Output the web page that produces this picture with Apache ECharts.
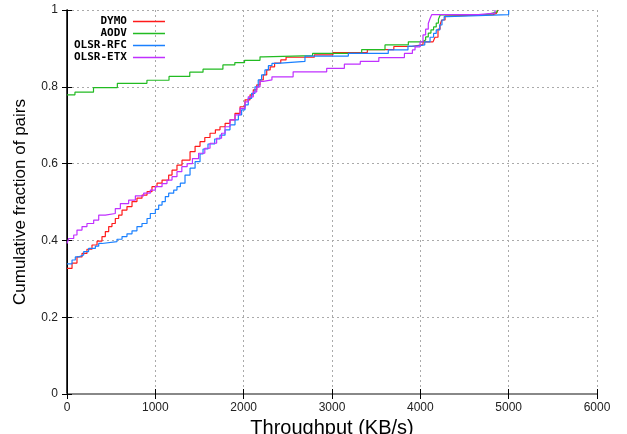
<!DOCTYPE html>
<html>
<head>
<meta charset="utf-8">
<script src="https://cdn.jsdelivr.net/npm/echarts@6/dist/echarts.min.js"></script>
<style>html,body{margin:0;padding:0;background:#fff}#c{width:627px;height:434px}</style>
</head>
<body>
<div id="c"></div>
<script>
const seriesNames = ['DYMO', 'AODV', 'OLSR-RFC', 'OLSR-ETX'];
const xTicks = [0, 1000, 2000, 3000, 4000, 5000, 6000];
const yTicks = [0, 0.2, 0.4, 0.6, 0.8, 1];

const dymo = [[0,0.327],[57,0.341],[113,0.357],[170,0.366],[226,0.377],[283,0.388],[340,0.398],[396,0.410],[434,0.423],[472,0.436],[509,0.444],[547,0.457],[585,0.466],[623,0.479],[679,0.488],[736,0.501],[792,0.510],[849,0.518],[906,0.527],[962,0.540],[1019,0.549],[1076,0.557],[1151,0.570],[1189,0.583],[1245,0.596],[1302,0.609],[1393,0.631],[1450,0.645],[1506,0.657],[1560,0.668],[1619,0.679],[1680,0.688],[1732,0.696],[1790,0.705],[1845,0.714],[1902,0.731],[1959,0.748],[2015,0.766],[2072,0.779],[2109,0.792],[2148,0.805],[2185,0.818],[2222,0.831],[2261,0.844],[2300,0.852],[2350,0.862],[2420,0.870],[2480,0.877],[2800,0.883],[3010,0.889],[3400,0.897],[3700,0.905],[3900,0.910],[4030,0.917],[4144,0.919],[4166,0.929],[4200,0.950],[4223,0.961],[4242,0.974],[4280,0.984],[4302,0.988],[4823,0.991],[4860,0.995],[4880,1.0]];
const aodv = [[0,0.779],[90,0.786],[300,0.798],[570,0.809],[905,0.817],[1155,0.827],[1390,0.838],[1540,0.846],[1765,0.857],[1900,0.863],[2010,0.869],[2185,0.878],[2220,0.881],[2780,0.887],[3336,0.897],[3600,0.909],[3864,0.917],[4020,0.922],[4060,0.930],[4090,0.940],[4120,0.948],[4150,0.956],[4180,0.966],[4205,0.976],[4225,0.987],[4700,0.990],[4790,0.995],[4870,1.0]];
const olsrRfc = [[0,0.339],[57,0.349],[94,0.357],[132,0.362],[189,0.371],[245,0.379],[321,0.385],[359,0.392],[396,0.397],[566,0.403],[623,0.410],[679,0.417],[736,0.425],[792,0.436],[849,0.444],[906,0.457],[943,0.470],[1000,0.481],[1038,0.492],[1076,0.501],[1113,0.514],[1151,0.523],[1208,0.531],[1245,0.540],[1283,0.549],[1336,0.570],[1393,0.588],[1450,0.605],[1506,0.625],[1540,0.638],[1596,0.651],[1672,0.664],[1732,0.674],[1789,0.688],[1845,0.701],[1902,0.714],[1940,0.727],[1977,0.740],[2015,0.753],[2052,0.770],[2090,0.783],[2128,0.800],[2165,0.818],[2203,0.831],[2241,0.844],[2280,0.855],[2320,0.861],[2380,0.866],[2694,0.880],[3185,0.887],[3637,0.896],[3860,0.906],[3950,0.909],[4050,0.917],[4110,0.929],[4150,0.939],[4180,0.948],[4220,0.961],[4245,0.974],[4270,0.983],[4300,0.988],[5000,1.0]];
const olsrEtx = [[0,0.392],[19,0.405],[76,0.414],[113,0.427],[170,0.436],[226,0.444],[302,0.453],[359,0.466],[434,0.470],[547,0.483],[604,0.496],[698,0.505],[774,0.516],[868,0.523],[943,0.531],[1000,0.540],[1076,0.548],[1132,0.557],[1189,0.566],[1245,0.579],[1300,0.592],[1360,0.600],[1420,0.613],[1490,0.627],[1560,0.640],[1619,0.653],[1694,0.666],[1750,0.679],[1789,0.696],[1845,0.714],[1902,0.727],[1959,0.744],[2015,0.761],[2052,0.774],[2109,0.787],[2148,0.800],[2185,0.814],[2222,0.818],[2320,0.826],[2560,0.839],[2940,0.848],[3140,0.859],[3320,0.866],[3530,0.876],[3820,0.887],[3910,0.896],[3940,0.904],[3997,0.917],[4030,0.935],[4060,0.950],[4090,0.965],[4110,0.978],[4130,0.988],[4656,0.992],[4845,1.0]];

const allData = [dymo, aodv, olsrRfc, olsrEtx];
const colors = ['#ff1a1a', '#22bb22', '#1a80ff', '#c030ff'];

const chart = echarts.init(document.getElementById('c'), null, {renderer: 'canvas'});
const labelFont = {color: '#222', fontFamily: 'Liberation Sans, Arial, sans-serif', fontSize: 12};
const baseX = {type: 'value', min: xTicks[0], max: xTicks[xTicks.length-1], interval: 1000};
const baseY = {type: 'value', min: yTicks[0], max: yTicks[yTicks.length-1], interval: 0.2};

chart.setOption({
  animation: false,
  backgroundColor: '#fff',
  grid: {left: 67, right: 30, top: 10, bottom: 40, containLabel: false, outerBoundsMode: 'none'},
  legend: {
    orient: 'vertical', left: 69, top: 11, align: 'right', itemGap: 1,
    itemWidth: 32, itemHeight: 1.5, icon: 'rect',
    data: seriesNames,
    textStyle: {fontFamily: 'DejaVu Sans Mono, monospace', fontWeight: 'bold', fontSize: 11, color: '#000', width: 60, align: 'right', padding: [0, 1, 0, 0]}
  },
  xAxis: [
    Object.assign({}, baseX, {
      position: 'bottom',
      name: 'Throughput (KB/s)', nameLocation: 'middle', nameGap: 23,
      nameTextStyle: {fontFamily: 'Liberation Sans, Arial, sans-serif', fontSize: 20, color: '#000'},
      axisLine: {show: true, lineStyle: {color: '#000', width: 1}},
      axisTick: {show: true, inside: true, length: 5, lineStyle: {color: '#000'}},
      axisLabel: Object.assign({margin: 8, formatter: v => String(v)}, labelFont),
      splitLine: {show: true, lineStyle: {color: '#aaa', type: [2, 3], width: 1}}
    }),
    Object.assign({}, baseX, {
      position: 'top',
      axisLine: {show: true, lineStyle: {color: '#888', width: 2}},
      axisTick: {show: true, inside: true, length: 5, lineStyle: {color: '#000'}},
      axisLabel: {show: false},
      splitLine: {show: false}
    })
  ],
  yAxis: [
    Object.assign({}, baseY, {
      position: 'left',
      name: 'Cumulative fraction of pairs', nameLocation: 'middle', nameGap: 38,
      nameTextStyle: {fontFamily: 'Liberation Sans, Arial, sans-serif', fontSize: 17, color: '#000'},
      axisLine: {show: true, lineStyle: {color: '#000', width: 1.5}},
      axisTick: {show: true, inside: true, length: 5, lineStyle: {color: '#000'}},
      axisLabel: Object.assign({margin: 9}, labelFont),
      splitLine: {show: true, lineStyle: {color: '#aaa', type: [2, 3], width: 1}}
    }),
    Object.assign({}, baseY, {
      position: 'right',
      axisLine: {show: true, lineStyle: {color: '#000', width: 1}},
      axisTick: {show: true, inside: true, length: 5, lineStyle: {color: '#000'}},
      axisLabel: {show: false},
      splitLine: {show: false}
    })
  ],
  series: seriesNames.map((n, i) => ({
    name: n, type: 'line', step: 'end', showSymbol: false, symbol: 'none',
    xAxisIndex: 0, yAxisIndex: 0,
    data: allData[i],
    color: colors[i],
    itemStyle: {color: colors[i]},
    lineStyle: {color: colors[i], width: 1.2},
    emphasis: {disabled: true}
  }))
});
</script>
</body>
</html>
